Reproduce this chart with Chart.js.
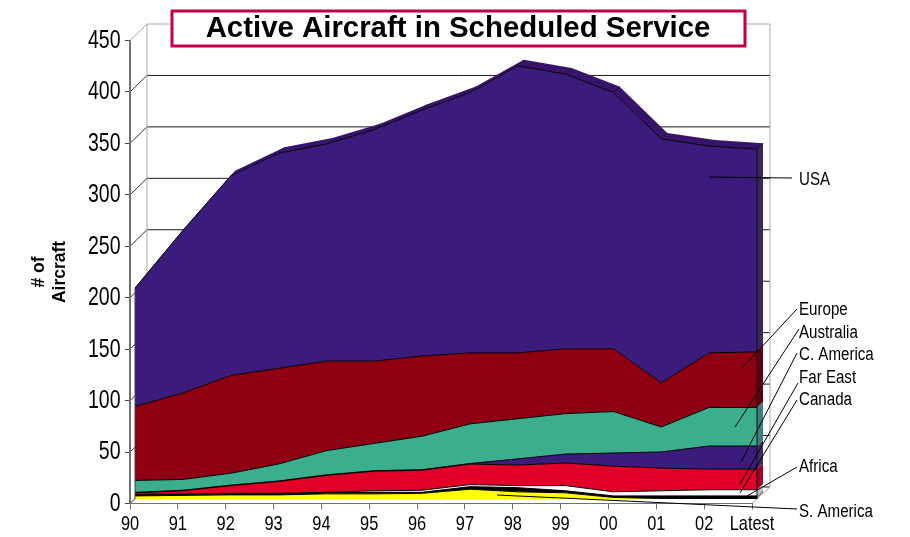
<!DOCTYPE html>
<html>
<head>
<meta charset="utf-8">
<title>Active Aircraft in Scheduled Service</title>
<script src="https://cdn.jsdelivr.net/npm/chart.js@4"></script>
<style>
  html, body { margin: 0; padding: 0; background: #fff; }
  #wrap { width: 910px; height: 537px; }
</style>
</head>
<body>
<div id="wrap"><canvas id="myChart" width="910" height="537"></canvas></div>
<script>
const chartTitle = 'Active Aircraft in Scheduled Service';
const years = ['90', '91', '92', '93', '94', '95', '96', '97', '98', '99', '00', '01', '02', 'Latest'];

// values, bottom of the stack first
const sAmerica = [3, 3.5, 4, 4, 5, 5, 5.5, 9.5, 7, 6, 1.5, 0.5, 0.5, 0.5];
const africa = [1, 1, 1, 1, 1, 1.5, 1, 2.5, 4, 2, 1.5, 2.5, 2.5, 2.5];
const canada = [0.5, 0.5, 0.5, 0.5, 0.5, 1.5, 2, 2, 2, 5, 4, 5, 6, 6];
const farEast = [1.5, 3, 7.5, 11.5, 16.5, 19, 19.5, 20, 20, 22, 25, 22, 20, 20];
const cAmerica = [0.5, 0.5, 0.5, 0.5, 0.5, 0.5, 0.5, 0.5, 6, 8.7, 12.7, 15.7, 22.5, 22.5];
const australia = [11.5, 10.5, 11.5, 16.5, 23.5, 26.5, 32.5, 38.5, 39, 39.3, 40.3, 24.3, 37.5, 37.5];
const europe = [72, 84, 95, 93, 87, 80, 78, 69, 64, 63, 61, 43, 53, 54];
const usa = [115, 158, 194, 209, 211, 225, 239, 253, 279, 267, 249, 237, 201, 197];

const wide = '"Liberation Sans", Arial, sans-serif';
const squeeze = 0.78;   // no narrow font installed, so labels are squeezed sideways

// depth of the fake 3D box
const wallDx = 17, wallDy = -16.5;   // back wall
const areaDx = 5, areaDy = -4.5;     // front of the areas
const sideDx = 6, sideDy = -6;       // thickness of the areas

function line(c, x1, y1, x2, y2, color, width) {
  c.strokeStyle = color;
  c.lineWidth = width || 1;
  c.beginPath();
  c.moveTo(x1, y1);
  c.lineTo(x2, y2);
  c.stroke();
}

function quad(c, pts, color) {
  c.fillStyle = color;
  c.beginPath();
  pts.forEach((p, i) => i ? c.lineTo(p[0], p[1]) : c.moveTo(p[0], p[1]));
  c.closePath();
  c.fill();
}

function narrowText(c, text, x, y, ratio) {
  c.save();
  c.translate(x, y);
  c.scale(ratio, 1);
  c.fillText(text, 0, 0);
  c.restore();
}

const box3d = {
  id: 'box3d',
  beforeDraw(chart) {
    const c = chart.ctx, y = chart.scales.y, a = chart.chartArea;
    c.save();
    const backL = a.left + wallDx, backR = a.right + wallDx + 1;
    // walls of the box
    y.ticks.forEach(t => {
      const py = y.getPixelForValue(t.value);
      const top = t.value === 450;
      line(c, backL, py + wallDy, backR, py + wallDy, top ? '#a8a8a8' : '#1a1a1a', 1);
      line(c, a.left, py, backL, py + wallDy, top ? '#a8a8a8' : '#333', 1);
    });
    line(c, backL, y.top + wallDy, backL, y.bottom + wallDy, '#a8a8a8', 1);
    line(c, backR, y.top + wallDy, backR, y.bottom + wallDy, '#a8a8a8', 1);
    line(c, a.right, a.bottom, backR, y.bottom + wallDy, '#a8a8a8', 1);
    // title box
    c.fillStyle = '#fff';
    c.fillRect(172, 11, 573, 35);
    c.strokeStyle = '#c0004a';
    c.lineWidth = 3;
    c.strokeRect(172, 11, 573, 35);
    c.restore();
  },
  beforeDatasetsDraw(chart) {
    const c = chart.ctx;
    c.save();
    c.translate(areaDx, areaDy);
    const n = chart.data.datasets.length;
    // right hand side faces
    chart.data.datasets.forEach((ds, i) => {
      const topPt = chart.getDatasetMeta(i).data[years.length - 1];
      const botY = i ? chart.getDatasetMeta(i - 1).data[years.length - 1].y : chart.scales.y.bottom;
      quad(c, [[topPt.x, topPt.y], [topPt.x + sideDx, topPt.y + sideDy],
               [topPt.x + sideDx, botY + sideDy], [topPt.x, botY]], ds.sideColor);
    });
    // band along the top of the stack
    const pts = chart.getDatasetMeta(n - 1).data;
    for (let j = 0; j < pts.length - 1; j++) {
      quad(c, [[pts[j].x, pts[j].y], [pts[j + 1].x, pts[j + 1].y],
               [pts[j + 1].x + sideDx, pts[j + 1].y + sideDy], [pts[j].x + sideDx, pts[j].y + sideDy]], '#36146c');
    }
    pts.forEach(p => line(c, p.x, p.y, p.x + sideDx, p.y + sideDy, '#1c0a3c', 1));
  },
  afterDatasetsDraw(chart) {
    const c = chart.ctx;
    // front edges of the stack, both ends
    const pts = chart.getDatasetMeta(chart.data.datasets.length - 1).data;
    const first = pts[0], last = pts[pts.length - 1], bottom = chart.scales.y.bottom;
    line(c, first.x, first.y, first.x, bottom, '#444', 1);
    line(c, last.x, last.y, last.x, bottom, '#111', 1);
    c.restore();
  },
  afterDraw(chart) {
    const c = chart.ctx, sx = chart.scales.x, sy = chart.scales.y;
    c.save();
    c.fillStyle = '#000';
    c.textBaseline = 'middle';
    c.textAlign = 'center';
    c.font = 'bold 29.4px ' + wide;
    c.fillText(chartTitle, 458, 28.5);
    // axis labels come from the scales
    c.font = '21px ' + wide;
    years.forEach((label, i) => narrowText(c, label, sx.getPixelForValue(i), 524.5, squeeze));
    c.textAlign = 'right';
    c.font = '25px ' + wide;
    sy.ticks.forEach(t => narrowText(c, String(t.value), 120.5, sy.getPixelForValue(t.value) + 0.5, squeeze));
    // callouts: [name, text y, from x, from y, to x, to y]
    const callouts = [
      ['USA', 180, 709, 177, 792, 178],
      ['Europe', 310, 743, 367, 797, 309],
      ['Australia', 333, 735, 427, 799, 329],
      ['C. America', 355, 741, 462, 797, 353],
      ['Far East', 378, 740, 484, 798, 383],
      ['Canada', 400, 740, 493, 797, 400],
      ['Africa', 467, 747, 496, 797, 467],
      ['S. America', 512, 497, 495, 797, 509]
    ];
    c.textAlign = 'left';
    c.font = '18px ' + wide;
    callouts.forEach(o => {
      line(c, o[2], o[3], o[4], o[5], '#000', 1);
      narrowText(c, o[0], 799, o[1], 0.84);
    });
    c.restore();
  }
};

function area(label, data, color, sideColor, fill) {
  return {
    label: label,
    data: data,
    backgroundColor: color,
    sideColor: sideColor,
    borderColor: '#000',
    borderWidth: 1,
    pointRadius: 0,
    tension: 0,
    clip: false,
    fill: fill
  };
}

new Chart(document.getElementById('myChart'), {
  type: 'line',
  data: {
    labels: years,
    datasets: [
      area('S. America', sAmerica, '#ffff00', '#c0c0c0', 'origin'),
      area('Africa', africa, '#000000', '#808080', '-1'),
      area('Canada', canada, '#ffffff', '#c0c0c0', '-1'),
      area('Far East', farEast, '#e00028', '#a3001d', '-1'),
      area('C. America', cAmerica, '#3b1c7c', '#3d2a6a', '-1'),
      area('Australia', australia, '#3bae8e', '#3a7f78', '-1'),
      area('Europe', europe, '#8f0012', '#5f000c', '-1'),
      area('USA', usa, '#3b1c7c', '#3d2464', '-1')
    ]
  },
  plugins: [box3d],
  options: {
    responsive: false,
    animation: false,
    layout: { padding: { top: 40.5, right: 158, left: 0, bottom: 0 } },
    plugins: {
      legend: { display: false },
      tooltip: { enabled: false },
      title: { display: false }
    },
    scales: {
      x: {
        offset: false,
        afterFit: s => { s.height = 33.5; },
        border: { color: '#707070', width: 1 },
        grid: { drawOnChartArea: false, tickLength: 6, color: '#707070' },
        ticks: { display: false, autoSkip: false }
      },
      y: {
        stacked: true,
        min: 0,
        max: 450,
        afterFit: s => { s.width = 130; },
        border: { color: '#707070', width: 2 },
        grid: { drawOnChartArea: false, tickLength: 5, color: '#444' },
        ticks: { stepSize: 50, display: false },
        title: {
          display: true,
          text: ['# of', 'Aircraft'],
          color: '#000',
          font: { family: wide, size: 17.5, weight: 'bold' },
          padding: { top: 28.5, bottom: 0 }
        }
      }
    }
  }
});
</script>
</body>
</html>
